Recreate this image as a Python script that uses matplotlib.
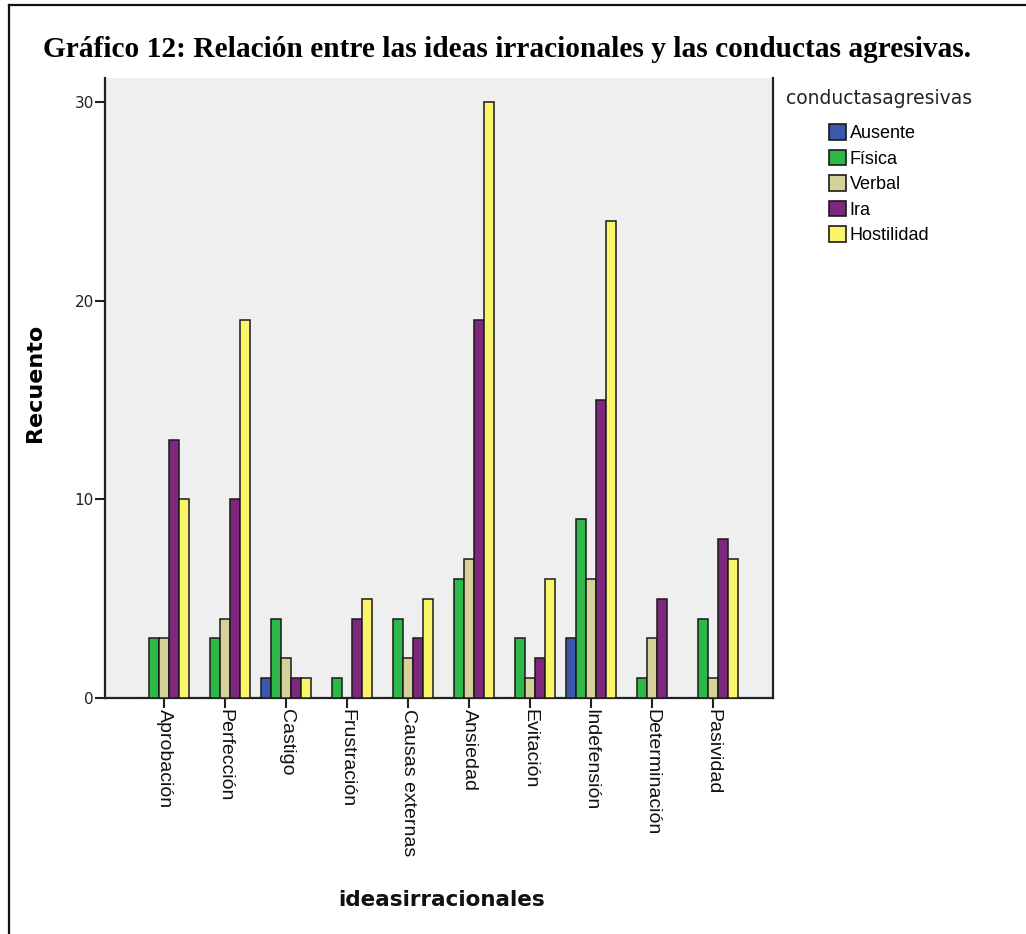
import numpy as np
import matplotlib
matplotlib.use('Agg')
import matplotlib.pyplot as plt
from matplotlib.patches import Patch
from matplotlib.lines import Line2D

# counts per irrational idea, one list per aggressive behaviour
ideas = ['Aprobación', 'Perfección', 'Castigo', 'Frustración', 'Causas externas',
         'Ansiedad', 'Evitación', 'Indefensión', 'Determinación', 'Pasividad']
ausente = [0, 0, 1, 0, 0, 0, 0, 3, 0, 0]
fisica = [3, 3, 4, 1, 4, 6, 3, 9, 1, 4]
verbal = [3, 4, 2, 0, 2, 7, 1, 6, 3, 1]
ira = [13, 10, 1, 4, 3, 19, 2, 15, 5, 8]
hostilidad = [10, 19, 1, 5, 5, 30, 6, 24, 0, 7]
conductas = ['Ausente', 'Física', 'Verbal', 'Ira', 'Hostilidad']
yticks = [0, 10, 20, 30]

series = [ausente, fisica, verbal, ira, hostilidad]
colors = ['#3c58ac', '#2fb84a', '#d6d199', '#7d287d', '#fbf56c']

W, H = 1026, 934
fig = plt.figure(figsize=(W / 100, H / 100), dpi=100)
fig.patch.set_facecolor('white')

ax = fig.add_axes([105 / W, 1 - 698 / H, (773 - 105) / W, (698 - 78) / H])
ax.set_facecolor('#efefef')

x = np.arange(len(ideas))
bw = 0.164
for k, (vals, col) in enumerate(zip(series, colors)):
    ax.bar(x + (k - 2) * bw, vals, width=bw, color=col, edgecolor='#1a1a1a',
           linewidth=1.1, zorder=3)

ax.set_xlim(-0.967, 9.98)
ax.set_ylim(0, 31.2)
ax.set_yticks(yticks)
ax.set_yticklabels([str(t) for t in yticks], family='DejaVu Sans', fontsize=11,
                   color='#222222')
ax.set_xticks(x)
ax.set_xticklabels(ideas, rotation=-90, family='Liberation Sans', fontsize=14,
                   color='#111111', va='top', ha='center')
ax.tick_params(axis='both', direction='out', length=7, width=1.5, color='#222222', pad=1)

for side in ['left', 'bottom', 'right']:
    ax.spines[side].set_color('#222222')
    ax.spines[side].set_linewidth(1.6)
ax.spines['top'].set_visible(False)

ax.set_ylabel('Recuento', family='DejaVu Sans', fontweight='bold', fontsize=16)
ax.yaxis.set_label_coords((45 - 105) / (773 - 105), (698 - 383) / (698 - 78))
fig.text(442 / W, 1 - 900 / H, 'ideasirracionales', family='DejaVu Sans',
         fontweight='bold', fontsize=15.5, ha='center', va='center', color='#111111')

# legend: title on its own, swatches indented below it
fig.text(786 / W, 1 - 98 / H, 'conductasagresivas', family='DejaVu Sans', fontsize=13.5,
         ha='left', va='center', color='#222222')
handles = [Patch(facecolor=c, edgecolor='#1a1a1a', linewidth=1.2) for c in colors]
fig.legend(handles, conductas, loc='upper left', bbox_to_anchor=(829 / W, 1 - 124 / H),
           frameon=False, borderpad=0, borderaxespad=0, handlelength=0.95,
           handleheight=0.95, handletextpad=0.2, labelspacing=0.42,
           prop={'family': 'Liberation Sans', 'size': 13})

fig.text(43 / W, 1 - 57 / H,
         'Gráfico 12: Relación entre las ideas irracionales y las conductas agresivas.',
         family='Liberation Serif', fontweight='bold', fontsize=21.2, ha='left',
         va='baseline', color='black')

# page frame lines
fig.add_artist(Line2D([9 / W, 1], [1 - 5 / H, 1 - 5 / H], color='#111111', linewidth=1.6,
                      transform=fig.transFigure))
fig.add_artist(Line2D([9 / W, 9 / W], [0, 1 - 5 / H], color='#111111', linewidth=1.6,
                      transform=fig.transFigure))

fig.savefig('out.png', dpi=100)
